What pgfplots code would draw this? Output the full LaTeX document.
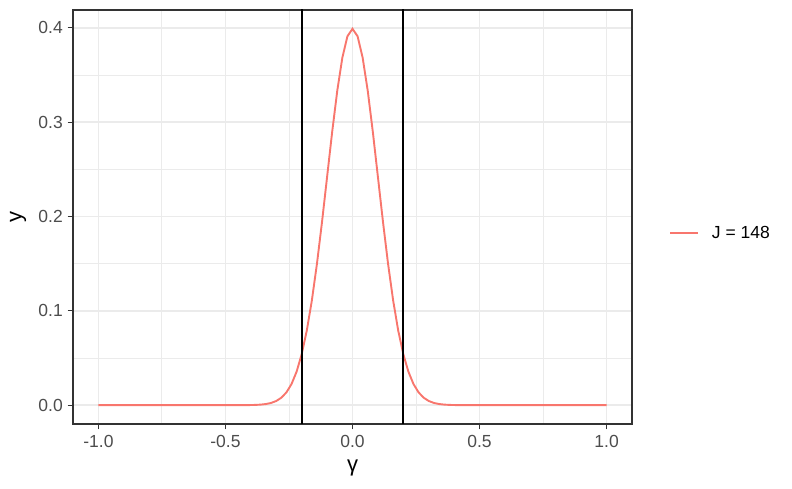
\documentclass[border=0pt]{standalone}
\usepackage{fontspec}
\setmainfont{Liberation Sans}
\usepackage{pgfplots}
\pgfplotsset{compat=1.18}
\definecolor{g30}{HTML}{4D4D4D}
\definecolor{g20}{HTML}{333333}
\definecolor{g92}{HTML}{EBEBEB}
\definecolor{ggred}{HTML}{F8766D}
\begin{document}
\begin{tikzpicture}[x=1pt,y=1pt]
\useasboundingbox (0,0) rectangle (792,489);
\begin{axis}[
 at={(73pt,65pt)}, anchor=south west,
 scale only axis, width=559pt, height=414pt,
 xmin=-1.1, xmax=1.1, ymin=-0.01995, ymax=0.4189,
 xtick={-1,-0.5,0,0.5,1}, xticklabels={-1.0,-0.5,0.0,0.5,1.0},
 ytick={0,0.1,0.2,0.3,0.4}, yticklabels={0.0,0.1,0.2,0.3,0.4},
 minor xtick={-0.75,-0.25,0.25,0.75}, minor ytick={0.05,0.15,0.25,0.35},
 grid=both,
 major grid style={g92, line width=1.6pt},
 minor grid style={g92, line width=0.9pt},
 tick pos=left, tick align=outside, major tick length=5.5pt, minor tick length=0pt,
 major tick style={g20, line width=1.3pt},
 axis line style={g20, line width=1.3pt},
 ticklabel style={font=\fontsize{17.5}{19}\selectfont, text=g30},
 xticklabel style={inner sep=0pt, yshift=-6pt},
 yticklabel style={inner sep=0pt, xshift=-4.5pt},
 xlabel={γ}, ylabel={y},
 label style={font=\fontsize{22}{24}\selectfont},
 xlabel style={at={(axis description cs:0.5,-0.0845)}, anchor=center, yshift=-9pt},
 ylabel style={at={(axis description cs:-0.0984,0.5)}, anchor=center},
 legend style={at={(axis description cs:1.066,0.461)}, anchor=west, draw=none, fill=none,
   font=\fontsize{17.5}{19}\selectfont, inner sep=0pt, column sep=13pt,
   nodes={inner sep=0pt}},
 legend cell align=left,
 legend image code/.code={\draw[#1] (0pt,0pt) -- (28pt,0pt);},
]
\addplot[ggred, line width=1.9pt] coordinates {
(-1.00,0) (-0.50,0.000001) (-0.46,0.00001) (-0.44,0.000025) (-0.42,0.000059)
(-0.40,0.000134) (-0.38,0.000292) (-0.36,0.000612) (-0.34,0.001232) (-0.32,0.002384)
(-0.30,0.004432) (-0.28,0.007915) (-0.26,0.013583) (-0.24,0.022395) (-0.22,0.035475)
(-0.20,0.053991) (-0.18,0.078950) (-0.16,0.110921) (-0.14,0.149727) (-0.12,0.194186)
(-0.10,0.241971) (-0.08,0.289692) (-0.06,0.333225) (-0.04,0.368270) (-0.02,0.391043)
(0.00,0.398942)
(0.02,0.391043) (0.04,0.368270) (0.06,0.333225) (0.08,0.289692) (0.10,0.241971)
(0.12,0.194186) (0.14,0.149727) (0.16,0.110921) (0.18,0.078950) (0.20,0.053991)
(0.22,0.035475) (0.24,0.022395) (0.26,0.013583) (0.28,0.007915) (0.30,0.004432)
(0.32,0.002384) (0.34,0.001232) (0.36,0.000612) (0.38,0.000292) (0.40,0.000134)
(0.42,0.000059) (0.44,0.000025) (0.46,0.00001) (0.50,0.000001) (1.00,0)
};
\addlegendentry{J = 148}
\addplot[black, line width=1.9pt, forget plot] coordinates {(-0.2,-1) (-0.2,1)};
\addplot[black, line width=1.9pt, forget plot] coordinates {(0.2,-1) (0.2,1)};
\end{axis}
\end{tikzpicture}
\end{document}
